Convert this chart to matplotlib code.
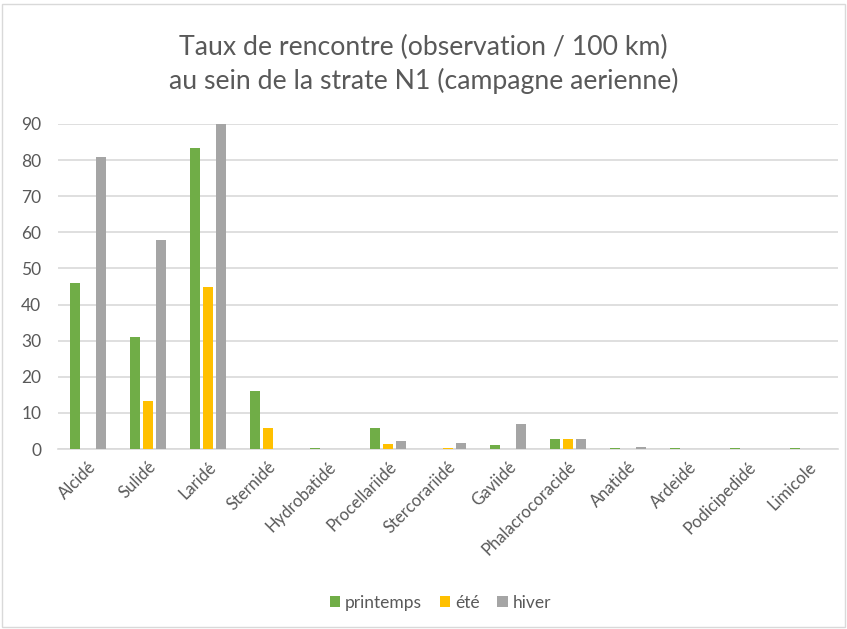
import matplotlib
matplotlib.use("Agg")
import matplotlib.pyplot as plt
import numpy as np

categories = ["Alcidé", "Sulidé", "Laridé", "Sternidé", "Hydrobatidé", "Procellariidé",
              "Stercorariidé", "Gaviidé", "Phalacrocoracidé", "Anatidé", "Ardeidé",
              "Podicipedidé", "Limicole"]
printemps = [46, 31, 83.3, 16.2, 0.4, 5.8, 0, 1.0, 2.7, 0.3, 0.3, 0.3, 0.3]
ete = [0, 13.3, 45, 5.8, 0, 1.5, 0.4, 0, 2.9, 0, 0, 0, 0]
hiver = [81, 58, 90.2, 0, 0, 2.1, 1.8, 6.9, 2.7, 0.6, 0, 0, 0]
series_names = ["printemps", "été", "hiver"]
colors = ["#70AD47", "#FFC000", "#A5A5A5"]
yticks = list(range(0, 100, 10))

plt.rcParams['font.family'] = ['Lato', 'DejaVu Sans']
fig = plt.figure(figsize=(8.47, 6.29), dpi=100)
ax = fig.add_axes([58/847, 1-449/629, (838-58)/847, (449-124)/629])

x = np.arange(len(categories))
w = 0.167
off = 0.217
for i, (vals, name, c) in enumerate(zip([printemps, ete, hiver], series_names, colors)):
    ax.bar(x + (i-1)*off, vals, width=w, color=c, label=name, zorder=3)

ax.set_xlim(-0.5, len(categories)-0.5)
ax.set_ylim(0, 90)
ax.set_yticks(yticks)
ax.yaxis.grid(True, color="#D9D9D9", linewidth=1.2, zorder=0)
ax.set_xticks(x)
ax.set_xticklabels(categories, rotation=45, ha="right", rotation_mode="anchor",
                   fontsize=12, color="#595959")
for lab in ax.get_yticklabels():
    lab.set_fontsize(12.5)
    lab.set_color("#595959")
ax.tick_params(axis="x", length=0, pad=7)
ax.tick_params(axis="y", length=0, pad=12)
for s in ["top", "right", "left"]:
    ax.spines[s].set_visible(False)
ax.spines["bottom"].set_color("#D9D9D9")
ax.spines["bottom"].set_linewidth(1.2)

fig.text(0.5, 1-47/629, "Taux de rencontre (observation / 100 km)", ha="center", va="center",
         fontsize=19.2, color="#595959")
fig.text(0.5, 1-81/629, "au sein de la strate N1 (campagne aerienne)", ha="center", va="center",
         fontsize=19.2, color="#595959")

leg = fig.legend(loc="center", bbox_to_anchor=(0.52, 1-603/629), ncol=3, frameon=False,
                 fontsize=12.5, handlelength=0.6, handleheight=0.6, handletextpad=0.3,
                 columnspacing=1.0)
for t in leg.get_texts():
    t.set_color("#595959")

border = plt.Rectangle((2/847, 2/629), 1-4/847, 1-6/629, transform=fig.transFigure,
                       fill=False, edgecolor="#D9D9D9", linewidth=1)
fig.patches.append(border)

fig.savefig("out.png", dpi=100)
